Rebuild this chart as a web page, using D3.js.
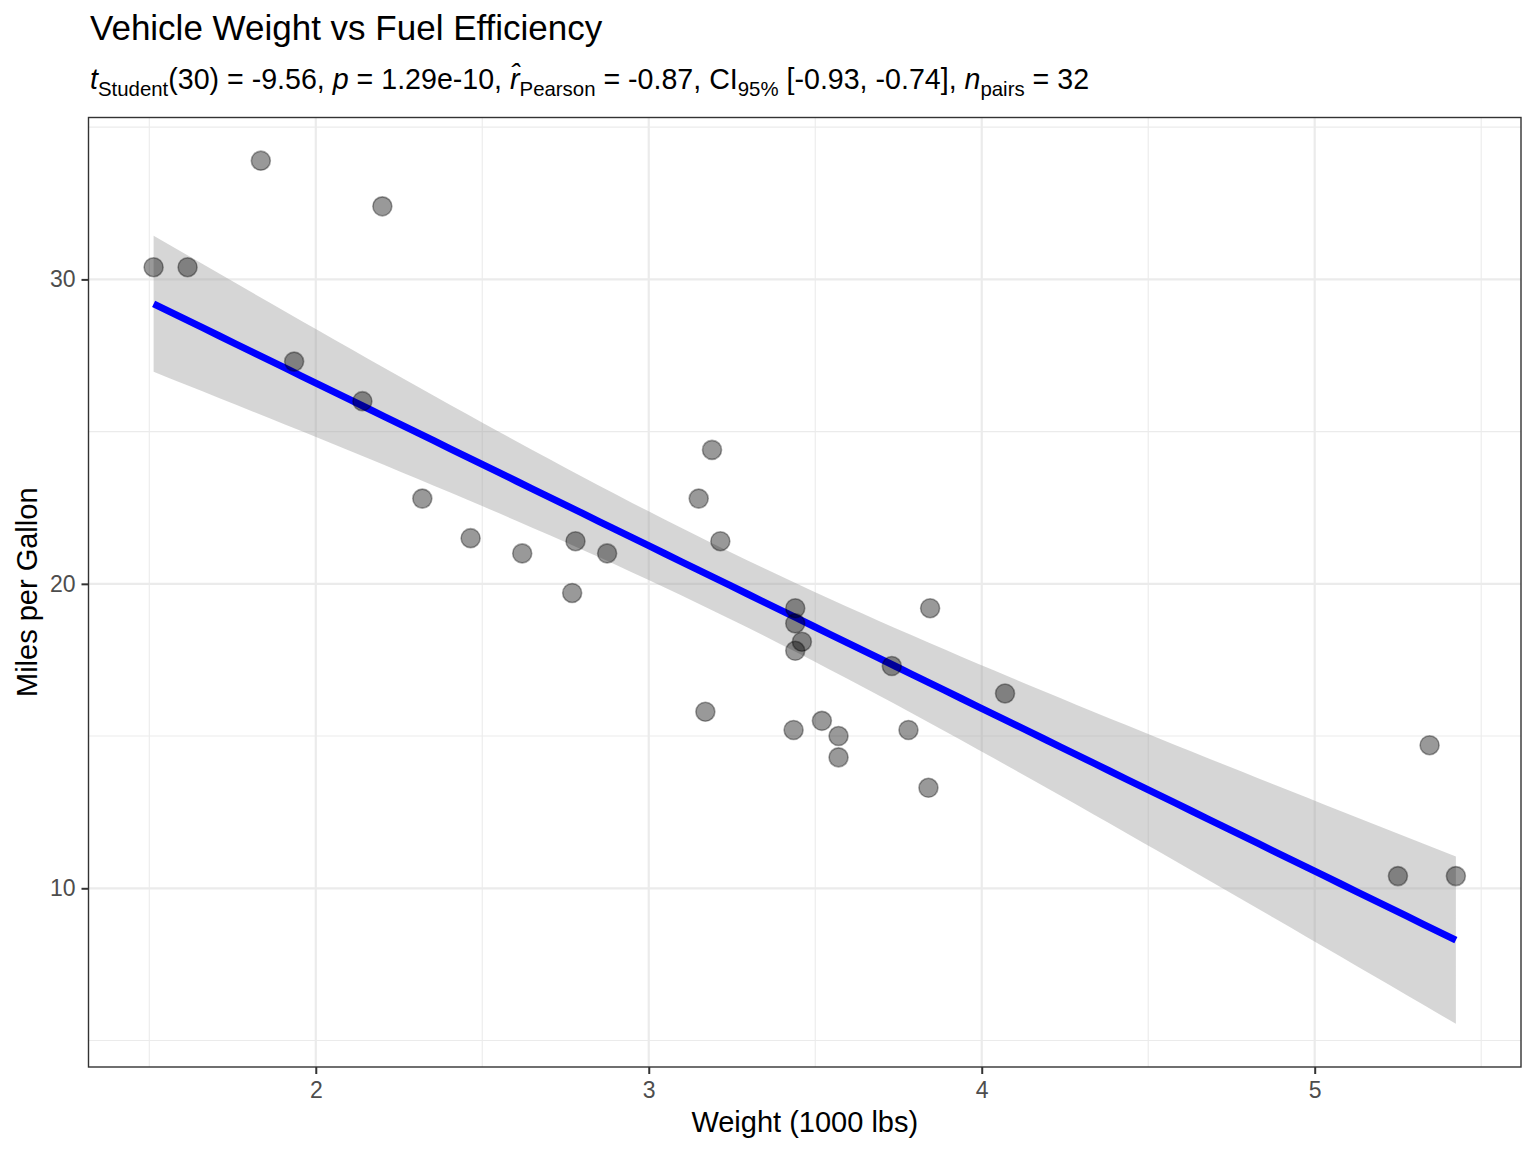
<!DOCTYPE html>
<html>
<head>
<meta charset="utf-8">
<script src="https://cdn.jsdelivr.net/npm/d3@7"></script>
<style>
  body { margin: 0; background: #fff; }
  text { font-family: "Liberation Sans", Arial, sans-serif; }
</style>
</head>
<body>
<div id="chart"></div>
<script>
// mtcars: weight (1000 lbs) and miles per gallon
var weights = [2.620, 2.875, 2.320, 3.215, 3.440, 3.460, 3.570, 3.190, 3.150, 3.440,
  3.440, 4.070, 3.730, 3.780, 5.250, 5.424, 5.345, 2.200, 1.615, 1.835,
  2.465, 3.520, 3.435, 3.840, 3.845, 1.935, 2.140, 1.513, 3.170, 2.770,
  3.570, 2.780];
var mpgs = [21.0, 21.0, 22.8, 21.4, 18.7, 18.1, 14.3, 24.4, 22.8, 19.2,
  17.8, 16.4, 17.3, 15.2, 10.4, 10.4, 14.7, 32.4, 30.4, 33.9,
  21.5, 15.5, 15.2, 13.3, 19.2, 27.3, 26.0, 30.4, 15.8, 19.7,
  15.0, 21.4];
var xTicks = [2, 3, 4, 5];
var yTicks = [10, 20, 30];
var xMinor = [1.5, 2.5, 3.5, 4.5, 5.5];
var yMinor = [5, 15, 25, 35];

var W = 1536, H = 1152;
var margin = { top: 117.5, right: 15, bottom: 85, left: 88.5 };
var width = W - margin.left - margin.right,
  height = H - margin.top - margin.bottom;

var svg = d3.select("#chart").append("svg")
  .attr("width", W).attr("height", H);

// linear fit + 95% confidence band (like geom_smooth(method = "lm"))
var n = weights.length;
var xbar = d3.mean(weights), ybar = d3.mean(mpgs);
var sxx = d3.sum(weights, function (d) { return (d - xbar) * (d - xbar); });
var sxy = d3.sum(weights, function (d, i) { return (d - xbar) * (mpgs[i] - ybar); });
var slope = sxy / sxx, intercept = ybar - slope * xbar;
var rss = d3.sum(weights, function (d, i) {
  var e = mpgs[i] - (intercept + slope * d);
  return e * e;
});
var s = Math.sqrt(rss / (n - 2));
var tcrit = 2.042272; // qt(0.975, 30)
var xExt = d3.extent(weights);
var grid = d3.range(80).map(function (i) { return xExt[0] + (xExt[1] - xExt[0]) * i / 79; });
var fit = grid.map(function (x) {
  var yhat = intercept + slope * x;
  var se = s * Math.sqrt(1 / n + (x - xbar) * (x - xbar) / sxx);
  return { x: x, y: yhat, lo: yhat - tcrit * se, hi: yhat + tcrit * se };
});

// scales with ggplot's 5% expansion
var xr = xExt[1] - xExt[0];
var x = d3.scaleLinear()
  .domain([xExt[0] - 0.05 * xr, xExt[1] + 0.05 * xr])
  .range([margin.left, margin.left + width]);
var yLo = Math.min(d3.min(mpgs), d3.min(fit, function (d) { return d.lo; }));
var yHi = Math.max(d3.max(mpgs), d3.max(fit, function (d) { return d.hi; }));
var yr = yHi - yLo;
var y = d3.scaleLinear()
  .domain([yLo - 0.05 * yr, yHi + 0.05 * yr])
  .range([margin.top + height, margin.top]);

// grid lines
var gGrid = svg.append("g");
gGrid.selectAll(".xminor").data(xMinor).enter().append("line")
  .attr("x1", function (d) { return x(d); }).attr("x2", function (d) { return x(d); })
  .attr("y1", margin.top).attr("y2", margin.top + height)
  .attr("stroke", "#ebebeb").attr("stroke-width", 1.1);
gGrid.selectAll(".yminor").data(yMinor).enter().append("line")
  .attr("y1", function (d) { return y(d); }).attr("y2", function (d) { return y(d); })
  .attr("x1", margin.left).attr("x2", margin.left + width)
  .attr("stroke", "#ebebeb").attr("stroke-width", 1.1);
gGrid.selectAll(".xmajor").data(xTicks).enter().append("line")
  .attr("x1", function (d) { return x(d); }).attr("x2", function (d) { return x(d); })
  .attr("y1", margin.top).attr("y2", margin.top + height)
  .attr("stroke", "#ebebeb").attr("stroke-width", 2.2);
gGrid.selectAll(".ymajor").data(yTicks).enter().append("line")
  .attr("y1", function (d) { return y(d); }).attr("y2", function (d) { return y(d); })
  .attr("x1", margin.left).attr("x2", margin.left + width)
  .attr("stroke", "#ebebeb").attr("stroke-width", 2.2);

// confidence band and fitted line
svg.append("path").datum(fit)
  .attr("fill", "#999999").attr("fill-opacity", 0.4)
  .attr("d", d3.area()
    .x(function (d) { return x(d.x); })
    .y0(function (d) { return y(d.lo); })
    .y1(function (d) { return y(d.hi); }));
svg.append("path").datum(fit)
  .attr("fill", "none").attr("stroke", "#0000ff").attr("stroke-width", 7)
  .attr("d", d3.line()
    .x(function (d) { return x(d.x); })
    .y(function (d) { return y(d.y); }));

// points
svg.append("g").selectAll("circle").data(weights).enter().append("circle")
  .attr("cx", function (d) { return x(d); })
  .attr("cy", function (d, i) { return y(mpgs[i]); })
  .attr("r", 9.5)
  .attr("fill", "#000").attr("fill-opacity", 0.4)
  .attr("stroke", "#000").attr("stroke-opacity", 0.35).attr("stroke-width", 1.6);

// panel border
svg.append("rect")
  .attr("x", margin.left).attr("y", margin.top)
  .attr("width", width).attr("height", height)
  .attr("fill", "none").attr("stroke", "#333333").attr("stroke-width", 1.4);

// axes
var xAxis = svg.append("g")
  .attr("transform", "translate(0," + (margin.top + height) + ")")
  .call(d3.axisBottom(x).tickValues(xTicks).tickSize(7).tickPadding(8).tickFormat(d3.format("d")));
var yAxis = svg.append("g")
  .attr("transform", "translate(" + margin.left + ",0)")
  .call(d3.axisLeft(y).tickValues(yTicks).tickSize(7).tickPadding(6).tickFormat(d3.format("d")));
[xAxis, yAxis].forEach(function (a) {
  a.select(".domain").remove();
  a.selectAll(".tick line").attr("stroke", "#333333").attr("stroke-width", 2);
  a.selectAll(".tick text").attr("fill", "#4d4d4d")
    .style("font-size", "23px").style("font-family", "Liberation Sans, Arial, sans-serif");
});

// axis titles
svg.append("text")
  .attr("x", margin.left + width / 2).attr("y", 1132)
  .attr("text-anchor", "middle").style("font-size", "29px")
  .text("Weight (1000 lbs)");
svg.append("text")
  .attr("transform", "translate(37," + (margin.top + height / 2) + ") rotate(-90)")
  .attr("text-anchor", "middle").style("font-size", "29px")
  .text("Miles per Gallon");

// title
svg.append("text")
  .attr("x", 90).attr("y", 40)
  .style("font-size", "35px")
  .text("Vehicle Weight vs Fuel Efficiency");

// subtitle with statistics
var sub = svg.append("text").attr("x", 90).attr("y", 89).style("font-size", "28.6px");
var parts = [
  { t: "t", it: true }, { t: "Student", sub: true }, { t: "(30) = -9.56, " },
  { t: "p", it: true }, { t: " = 1.29e-10, " },
  { t: "r\u0302", it: true }, { t: "Pearson", sub: true }, { t: " = -0.87, CI" },
  { t: "95%", sub: true }, { t: " [-0.93, -0.74], " },
  { t: "n", it: true }, { t: "pairs", sub: true }, { t: " = 32" }
];
var shifted = false;
parts.forEach(function (p) {
  var ts = sub.append("tspan").text(p.t);
  if (p.it) ts.style("font-style", "italic");
  if (p.sub) {
    ts.style("font-size", "20.4px").attr("dy", 7);
    shifted = true;
  } else if (shifted) {
    ts.attr("dy", -7);
    shifted = false;
  }
});
</script>
</body>
</html>
